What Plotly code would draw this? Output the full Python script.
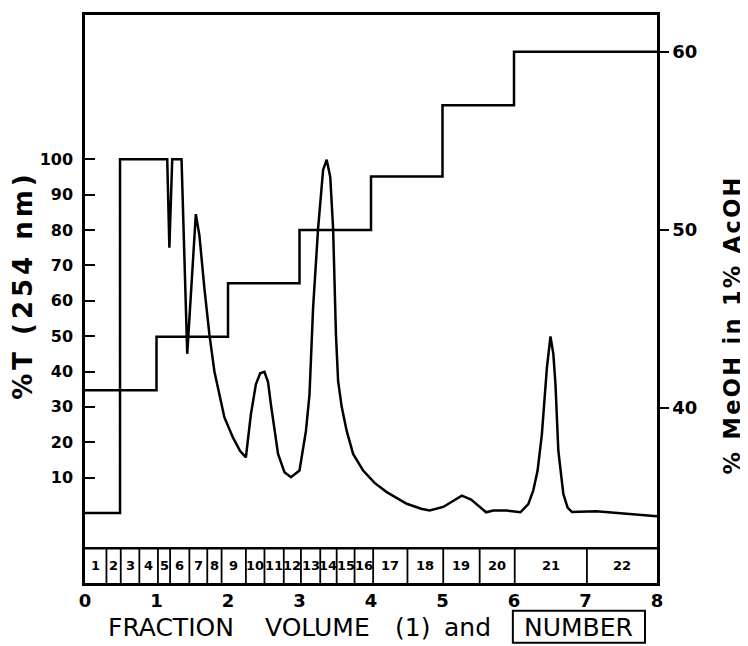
import plotly.graph_objects as go

# %T trace (left axis)
volume = [0, 0.49, 0.49, 1.15, 1.18, 1.22, 1.35, 1.43, 1.55, 1.60, 1.67, 1.74, 1.81, 1.88, 1.95,
          2.07, 2.17, 2.25, 2.32, 2.39, 2.45, 2.51, 2.56, 2.60, 2.70, 2.79, 2.88, 3.00, 3.09,
          3.14, 3.19, 3.26, 3.33, 3.38, 3.43, 3.47, 3.51, 3.54, 3.59, 3.66, 3.75, 3.89, 4.05,
          4.22, 4.50, 4.70, 4.82, 5.01, 5.15, 5.27, 5.40, 5.53, 5.61, 5.71, 5.90, 6.09, 6.20,
          6.27, 6.33, 6.39, 6.46, 6.51, 6.55, 6.58, 6.62, 6.69, 6.75, 6.81, 7.15, 8.0]
transmittance = [0, 0, 100, 100, 75, 100, 100, 45, 84.5, 78.5, 63.5, 50.4, 40, 33, 27,
                 21.3, 17.5, 15.7, 27.9, 36.4, 39.5, 39.9, 37, 30.7, 16.7, 11.5, 10.1, 12, 23.2,
                 33.5, 58, 80.4, 97, 99.9, 95, 80.4, 50.4, 37.3, 30, 23.2, 16.7, 12, 8.5,
                 5.9, 2.6, 1.2, 0.7, 1.7, 3.5, 4.9, 3.8, 1.7, 0.2, 0.7, 0.7, 0.2, 2.5,
                 6.4, 12, 22.3, 41, 49.9, 45, 36.4, 17.6, 5.4, 1.5, 0.3, 0.5, -0.9]

# MeOH gradient steps (right axis)
step_volume = [0, 1, 2, 3, 4, 5, 6, 8]
meoh_percent = [41, 44, 47, 50, 53, 57, 60, 60]

# fraction boundaries and numbers
fraction_edges = [0, 0.30, 0.50, 0.76, 1.02, 1.19, 1.46, 1.71, 1.91, 2.25, 2.51, 2.78,
                  3.02, 3.29, 3.52, 3.77, 4.03, 4.51, 5.01, 5.52, 6.01, 7.02, 8.0]
fraction_numbers = [str(i) for i in range(1, 23)]

left_ticks = [10, 20, 30, 40, 50, 60, 70, 80, 90, 100]
right_ticks = [40, 50, 60]
x_ticks = [0, 1, 2, 3, 4, 5, 6, 7, 8]

fig = go.Figure()
fig.add_trace(go.Scatter(x=volume, y=transmittance, mode="lines",
                         line=dict(color="black", width=2.5), yaxis="y"))
fig.add_trace(go.Scatter(x=step_volume, y=meoh_percent, mode="lines",
                         line=dict(color="black", width=2.5, shape="hv"), yaxis="y2"))

box_top = 0.0613
shapes = [dict(type="line", xref="x", yref="paper", x0=0, x1=8, y0=box_top, y1=box_top,
               line=dict(color="black", width=2.5))]
for e in fraction_edges[1:-1]:
    shapes.append(dict(type="line", xref="x", yref="paper", x0=e, x1=e, y0=0, y1=box_top,
                       line=dict(color="black", width=1.8)))
# frame around the word NUMBER
shapes.append(dict(type="rect", xref="paper", yref="paper", x0=0.748, x1=0.979,
                   y0=-0.105, y1=-0.049, line=dict(color="black", width=2)))

annotations = []
for i, n in enumerate(fraction_numbers):
    mid = (fraction_edges[i] + fraction_edges[i + 1]) / 2
    annotations.append(dict(x=mid, y=box_top / 2, xref="x", yref="paper", text=n,
                            xanchor="center", yanchor="middle", showarrow=False,
                            font=dict(family="DejaVu Sans", size=13, color="black",
                                      weight="bold")))

title_font = dict(family="DejaVu Sans", size=25, color="black")
words = [("FRACTION", 0.1512), ("VOLUME", 0.407), ("(1)", 0.572), ("and", 0.668),
         ("NUMBER", 0.8635)]
for w, xp in words:
    annotations.append(dict(x=xp, y=-0.078, xref="paper", yref="paper", text=w,
                            xanchor="center", yanchor="middle",
                            showarrow=False, font=title_font))

annotations.append(dict(x=-0.1084, y=0.525, xref="paper", yref="paper", textangle=-90,
                        xanchor="center", yanchor="middle",
                        text='<span style="letter-spacing:4px">%T (254 nm)</span>',
                        showarrow=False,
                        font=dict(family="DejaVu Sans", size=26, color="black", weight="bold")))
annotations.append(dict(x=1.131, y=0.455, xref="paper", yref="paper", textangle=-90,
                        xanchor="center", yanchor="middle",
                        text='<span style="letter-spacing:2.3px">% MeOH in 1% AcOH</span>',
                        showarrow=False,
                        font=dict(family="DejaVu Sans", size=22.5, color="black", weight="bold")))

tick_font = dict(family="DejaVu Sans", size=16, color="black", weight="bold")

fig.update_layout(
    width=748, height=646,
    margin=dict(l=77, r=99, t=4, b=71),
    paper_bgcolor="white", plot_bgcolor="white",
    showlegend=False,
    shapes=shapes, annotations=annotations,
    xaxis=dict(range=[0, 8], tickvals=x_ticks, showgrid=False, zeroline=False,
               showline=True, mirror=True, linecolor="black", linewidth=2.5,
               ticks="", tickfont=dict(family="DejaVu Sans", size=18, color="black",
                                       weight="bold")),
    yaxis=dict(range=[-19.8, 140.8], tickvals=left_ticks, showgrid=False, zeroline=False,
               showline=True, mirror=True, linecolor="black", linewidth=2.5,
               ticks="inside", ticklen=10, tickwidth=2, tickcolor="black",
               ticklabelstandoff=6, tickfont=tick_font),
    yaxis2=dict(range=[30.17, 62.07], tickvals=right_ticks, overlaying="y", side="right",
                showgrid=False, zeroline=False, showline=True, linecolor="black",
                linewidth=2.5, ticks="outside", ticklen=9, tickwidth=2, tickcolor="black",
                tickfont=dict(family="DejaVu Sans", size=18, color="black", weight="bold")),
)

fig.write_html("out.html")
